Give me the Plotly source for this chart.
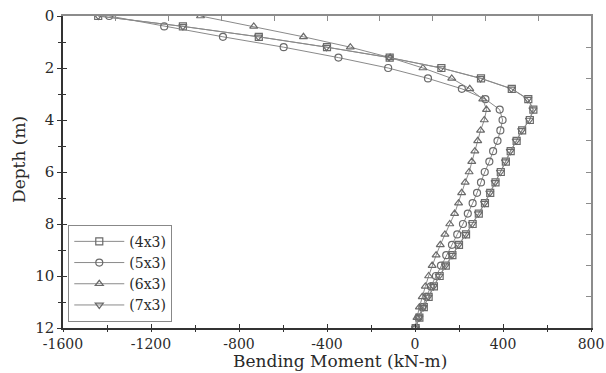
import plotly.graph_objects as go

depth = [round(0.4 * i, 1) for i in range(31)]

m_4x3 = [-1440, -1055, -710, -400, -115, 120, 300, 440, 515, 538, 522, 487, 462, 435, 413,
         390, 366, 342, 318, 290, 262, 232, 200, 170, 140, 112, 86, 62, 40, 20, 3]
m_5x3 = [-1390, -1140, -873, -597, -348, -122, 59, 213, 320, 385, 398, 388, 375, 355, 338,
         317, 300, 282, 262, 240, 218, 192, 168, 142, 118, 95, 72, 52, 33, 16, 2]
m_6x3 = [-975, -733, -507, -294, -113, 36, 167, 249, 308, 325, 315, 298, 285, 272, 258,
         246, 228, 212, 198, 180, 158, 136, 115, 96, 78, 62, 47, 33, 20, 9, 0]
m_7x3 = [-1440, -1055, -712, -402, -118, 118, 298, 438, 513, 536, 520, 485, 460, 433, 411,
         388, 364, 340, 316, 288, 260, 230, 198, 168, 138, 110, 84, 60, 38, 18, 2]

series_names = ["(4x3)", "(5x3)", "(6x3)", "(7x3)"]
series_vals = [m_4x3, m_5x3, m_6x3, m_7x3]
symbols = ["square-open", "circle-open", "triangle-up-open", "triangle-down-open"]

x_ticks = [-1600, -1200, -800, -400, 0, 400, 800]
y_ticks = [0, 2, 4, 6, 8, 10, 12]
x_title = "Bending Moment (kN-m)"
y_title = "Depth (m)"

FONT = "DejaVu Serif"
TXT = "#2a2a2a"
GRAY = "#8c8c8c"
DARK = "#333333"

fig = go.Figure()
for name, vals, sym in zip(series_names, series_vals, symbols):
    fig.add_trace(go.Scatter(
        x=vals, y=depth, name=name, mode="lines+markers",
        line=dict(color="#8a8a8a", width=1),
        marker=dict(symbol=sym, size=7, color="#6a6a6a", line=dict(width=1.2, color="#6a6a6a")),
    ))

common = dict(showgrid=False, zeroline=False, automargin=False)

fig.update_layout(
    width=606, height=373,
    margin=dict(l=63, r=15, t=16, b=45),
    paper_bgcolor="white", plot_bgcolor="white",
    font=dict(family=FONT, color=TXT, size=15),
    showlegend=True,
    legend=dict(x=0.01, y=0.02, xanchor="left", yanchor="bottom",
                bordercolor="#888888", borderwidth=1, bgcolor="white",
                font=dict(family=FONT, size=14, color=TXT),
                tracegroupgap=0, itemwidth=50),
    xaxis=dict(range=[-1600, 800], tickvals=x_ticks, ticktext=[str(v) for v in x_ticks],
               ticks="outside", ticklen=2, tickcolor=DARK, showline=True, linecolor=DARK,
               linewidth=1.5,
               minor=dict(dtick=200, ticks="outside", ticklen=2, tickcolor=DARK),
               tickfont=dict(family=FONT, size=14), **common),
    yaxis=dict(range=[12, 0], tickvals=y_ticks, ticktext=[str(v) for v in y_ticks],
               ticks="outside", ticklen=4, tickcolor=DARK, showline=True, linecolor=DARK,
               linewidth=1.5,
               minor=dict(dtick=1, ticks="outside", ticklen=3, tickcolor=DARK),
               tickfont=dict(family=FONT, size=15), **common),
    xaxis3=dict(overlaying="x", side="bottom", range=[-1600, 800], tickvals=x_ticks,
                ticks="inside", ticklen=4, tickcolor=DARK, showticklabels=False, showline=False,
                minor=dict(dtick=200, ticks="inside", ticklen=3, tickcolor=DARK), **common),
    yaxis3=dict(overlaying="y", side="left", range=[12, 0], tickvals=y_ticks,
                ticks="inside", ticklen=4, tickcolor=DARK, showticklabels=False, showline=False,
                minor=dict(dtick=1, ticks="inside", ticklen=3, tickcolor=DARK), **common),
    xaxis2=dict(overlaying="x", side="top", range=[0, 10], dtick=1, ticks="inside", ticklen=5,
                tickcolor=GRAY, showticklabels=False, showline=True, linecolor=GRAY, linewidth=2,
                **common),
    yaxis2=dict(overlaying="y", side="right", range=[0, 10], dtick=1, ticks="inside", ticklen=5,
                tickcolor=GRAY, showticklabels=False, showline=True, linecolor=GRAY, linewidth=2,
                **common),
    annotations=[
        dict(text=x_title, xref="paper", yref="paper", x=(340 - 63) / 528, y=(328 - 361) / 312,
             xanchor="center", yanchor="middle", showarrow=False,
             font=dict(family=FONT, size=17, color=TXT)),
        dict(text=y_title, xref="paper", yref="paper", x=(19 - 63) / 528, y=(328 - 160) / 312,
             xanchor="center", yanchor="middle", showarrow=False, textangle=-90,
             font=dict(family=FONT, size=17, color=TXT)),
    ],
)
# helper traces that switch on the extra tick axes
fig.add_trace(go.Scatter(x=[None], y=[None], xaxis="x2", yaxis="y2", showlegend=False, hoverinfo="skip"))
fig.add_trace(go.Scatter(x=[None], y=[None], xaxis="x3", yaxis="y3", showlegend=False, hoverinfo="skip"))

fig.write_html("out.html", config={"displayModeBar": False},
               post_script="document.body.style.margin='0';document.body.style.overflow='hidden';")
